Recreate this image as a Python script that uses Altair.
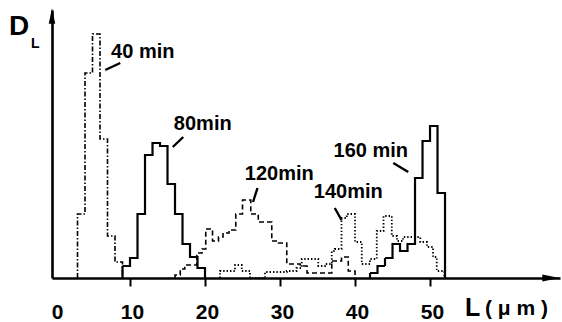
import altair as alt
import pandas as pd

# ---- data (L in µm, D_L in relative units) ----
edges_40 = [3, 4, 5, 6, 7, 8, 9]
d_40 = [64, 205, 244, 139, 42, 16]

edges_80 = [9, 10, 11, 12, 13, 14, 15, 16, 17, 18, 19, 20]
d_80 = [12, 20, 64, 123, 135, 132, 94, 64, 34, 21, 10]

edges_120 = [16.0, 16.7, 17.3, 18.9, 19.6, 20.1, 21.0, 21.8, 22.4, 23.2, 24.1, 25.0,
             26.1, 27.1, 28.9, 29.8, 30.9, 32.7, 33.6, 36.9, 38.2, 39.1, 40.0]
d_120 = [3, 9, 13, 25, 29, 49, 37, 41, 45, 48, 64, 78, 64, 56, 37, 35, 14, 12, 5, 17, 21, 7]

edges_140 = [22.0, 24.0, 24.9, 26.0, 28.0, 30.9, 32.2, 32.9, 35.1, 36.0, 36.9, 37.3, 38.2,
             38.9, 40.0, 40.9, 42.0, 42.9, 43.8, 44.9, 45.6, 46.4, 47.6, 48.7, 49.6, 50.4,
             50.9, 51.9]
d_140 = [7, 13, 7, 0, 6, 7, 10, 19, 12, 14, 27, 29, 60, 64, 36, 14, 19, 47, 62, 42, 37,
         41, 41, 36, 31, 21, 7]

edges_160 = [42, 43, 44, 45, 46, 47, 48, 49, 50, 51, 52]
d_160 = [5, 12, 20, 34, 27, 34, 100, 137, 152, 85]

series_names = ["40 min", "80min", "120min", "140min", "160 min"]
series_edges = [edges_40, edges_80, edges_120, edges_140, edges_160]
series_vals = [d_40, d_80, d_120, d_140, d_160]
series_dash = [[5, 2, 1.5, 2], [1, 0], [5, 3], [1.4, 2], [1, 0]]
series_width = [1.6, 2.2, 1.6, 1.8, 2.2]

# label positions (L, D) and pointer lines
label_x = [11.7, 19.7, 29.9, 39.1, 42.1]
label_y = [220, 148, 98, 80, 121]
arrow_x1 = [8.7, 17.1, 27.0, 37.3, 45.1]
arrow_y1 = [215, 141, 90, 70, 115]
arrow_x2 = [6.7, 15.7, 26.4, 38.2, 47.1]
arrow_y2 = [208, 131, 76, 58, 106]

tick_vals = [0, 10, 20, 30, 40, 50]

FONT = "Liberation Sans"

xs = alt.Scale(domain=[-0.4, 67.33], nice=False, zero=False)
ys = alt.Scale(domain=[0, 268], nice=False, zero=False)
xaxis = alt.Axis(values=tick_vals, title=None, grid=False, domainWidth=2.6,
                 domainColor="black", tickColor="black", tickWidth=2, tickSize=8,
                 tickOpacity={"condition": {"test": "datum.value === 0", "value": 0}, "value": 1},
                 labelFont=FONT, labelFontSize=21, labelFontWeight="bold",
                 labelColor="black", labelPadding=15, labelOffset=2, labelFlush=False)
yaxis = alt.Axis(title=None, labels=False, ticks=False, grid=False, domainWidth=2.6,
                 domainColor="black")


def X(f="x"):
    return alt.X(f, type="quantitative", scale=xs, axis=xaxis)


def Y(f="y"):
    return alt.Y(f, type="quantitative", scale=ys, axis=yaxis)


layers = []
for name, e, v, dash, sw in zip(series_names, series_edges, series_vals, series_dash, series_width):
    xs_pts, ys_pts = [e[0]], [0]
    for i, h in enumerate(v):
        xs_pts += [e[i], e[i + 1]]
        ys_pts += [h, h]
    xs_pts.append(e[-1])
    ys_pts.append(0)
    df = pd.DataFrame({"x": xs_pts, "y": ys_pts, "i": range(len(xs_pts))})
    layers.append(
        alt.Chart(df).mark_line(color="black", strokeWidth=sw, strokeDash=dash,
                                strokeCap="butt", strokeJoin="miter")
        .encode(x=X(), y=Y(), order=alt.Order("i:Q"))
    )

lab_df = pd.DataFrame({"x": label_x, "y": label_y, "t": series_names})
layers.append(
    alt.Chart(lab_df).mark_text(font=FONT, fontSize=20, fontWeight="bold", color="black",
                                align="center", baseline="alphabetic")
    .encode(x=X(), y=Y(), text="t:N")
)

arr_df = pd.DataFrame({"x": arrow_x1, "y": arrow_y1, "x2": arrow_x2, "y2": arrow_y2})
layers.append(
    alt.Chart(arr_df).mark_rule(color="black", strokeWidth=2.4)
    .encode(x=X(), y=Y(), x2="x2", y2="y2")
)

# axis arrow heads and axis titles
layers.append(
    alt.Chart(pd.DataFrame({"a": [0]})).mark_point(
        shape="M0,-1L0.42,1L-0.42,1Z", filled=True, color="black", opacity=1, size=240)
    .encode(x=alt.value(0), y=alt.value(6))
)
layers.append(
    alt.Chart(pd.DataFrame({"a": [0]})).mark_point(
        shape="M1,0L-1,-0.4L-1,0.4Z", filled=True, color="black", opacity=1, size=300)
    .encode(x=alt.value(499), y=alt.value(268))
)
layers.append(
    alt.Chart(pd.DataFrame({"t": ["D"]})).mark_text(
        font=FONT, fontSize=28, fontWeight="bold", color="black", align="left",
        baseline="alphabetic")
    .encode(x=alt.value(-43), y=alt.value(25), text="t:N")
)
layers.append(
    alt.Chart(pd.DataFrame({"t": ["L"]})).mark_text(
        font=FONT, fontSize=14, fontWeight="bold", color="black", align="left",
        baseline="alphabetic")
    .encode(x=alt.value(-21), y=alt.value(38), text="t:N")
)
layers.append(
    alt.Chart(pd.DataFrame({"t": ["L"]})).mark_text(
        font=FONT, fontSize=25, fontWeight="bold", color="black", align="left",
        baseline="alphabetic")
    .encode(x=alt.value(413), y=alt.value(306), text="t:N")
)
layers.append(
    alt.Chart(pd.DataFrame({"t": ["( μ m )"]})).mark_text(
        font=FONT, fontSize=21, fontWeight="bold", color="black", align="left",
        baseline="alphabetic")
    .encode(x=alt.value(433), y=alt.value(305), text="t:N")
)

chart = alt.layer(*layers).properties(
    width=508, height=268,
    padding={"left": 52, "top": 10, "right": 2, "bottom": 44},
    autosize=alt.AutoSizeParams(type="none"),
    background="white",
).configure_view(stroke=None)

chart.save("out.html", embed_options={"renderer": "svg", "actions": False})
